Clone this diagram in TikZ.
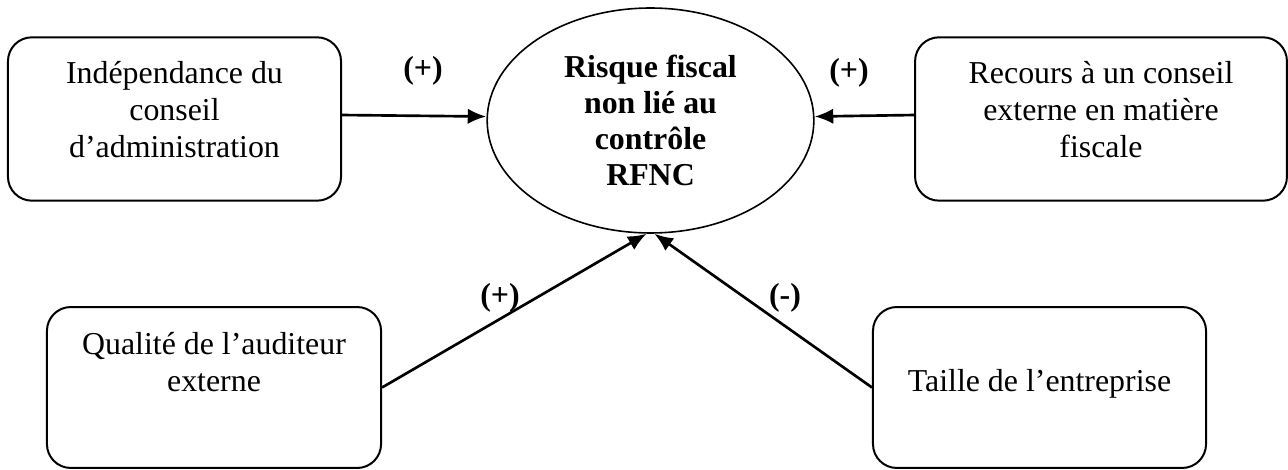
\documentclass[tikz,border=0pt]{standalone}
\usepackage{fontspec}
\setmainfont{Liberation Serif}
\usetikzlibrary{shapes.geometric,arrows.meta}
\tikzset{
>={Latex[length=7pt,width=5.8pt]},
  cadre/.style={
    rectangle,
    rounded corners=9pt,
    draw=black, line width=0.75pt,
    minimum height=61.5pt},
  texte/.style={
    align=center,
    inner sep=0pt,
    anchor=north,
    font=\fontsize{12}{13.9}\selectfont},
  risque/.style={
    ellipse,
    draw=black, line width=0.6pt,
    minimum width=123pt,
    minimum height=84.7pt,
    inner sep=0pt,
    align=center,
    font=\fontsize{12}{13.6}\selectfont\bfseries},
  signe/.style={font=\fontsize{12}{14}\selectfont\bfseries, inner sep=0pt},
  lien/.style={draw, line width=1pt, ->},
}
\begin{document}
\begin{tikzpicture}[x=0.3765pt,y=-0.3765pt]
\useasboundingbox (0,0) rectangle (1288,470);
% variable dependante
\node[risque] (rfnc) at (650.5,120.5) {Risque fiscal\\ non lié au\\ contrôle\\ RFNC};
% cadres des variables explicatives
\node[cadre, minimum width=125.4pt] (indep) at (174.5,119) {};
\node[texte] (indepTxt) at (174.5,61) {Indépendance du\\ conseil\\ d'administration};
\node[cadre, minimum width=140pt] (recours) at (1101,119) {};
\node[texte] (recoursTxt) at (1101,61) {Recours à un conseil\\ externe en matière\\ fiscale};
\node[cadre, minimum width=125.8pt, minimum height=60.6pt] (qualite) at (214,387.5) {};
\node[texte] (qualiteTxt) at (214,332) {Qualité de l'auditeur\\ externe};
\node[cadre, minimum width=125.4pt, minimum height=60.6pt] (taille) at (1039.5,387.5) {};
\node[texte] (tailleTxt) at (1039.5,369) {Taille de l'entreprise};
% liens
\draw[lien] ([yshift=1.5pt]indep.east) -- ([yshift=1.5pt]rfnc.west);
\draw[lien] ([yshift=1.5pt]recours.west) -- ([yshift=1.5pt]rfnc.east);
\draw[lien] (qualite.east) -- (rfnc.268);
\draw[lien] (taille.west) -- (rfnc.272);
% signes
\node[signe] (sIndep) at (423,71) {(+)};
\node[signe] (sRecours) at (849,73) {(+)};
\node[signe] (sQualite) at (500,298) {(+)};
\node[signe] (sTaille) at (785,298) {(-)};
\end{tikzpicture}
\end{document}
